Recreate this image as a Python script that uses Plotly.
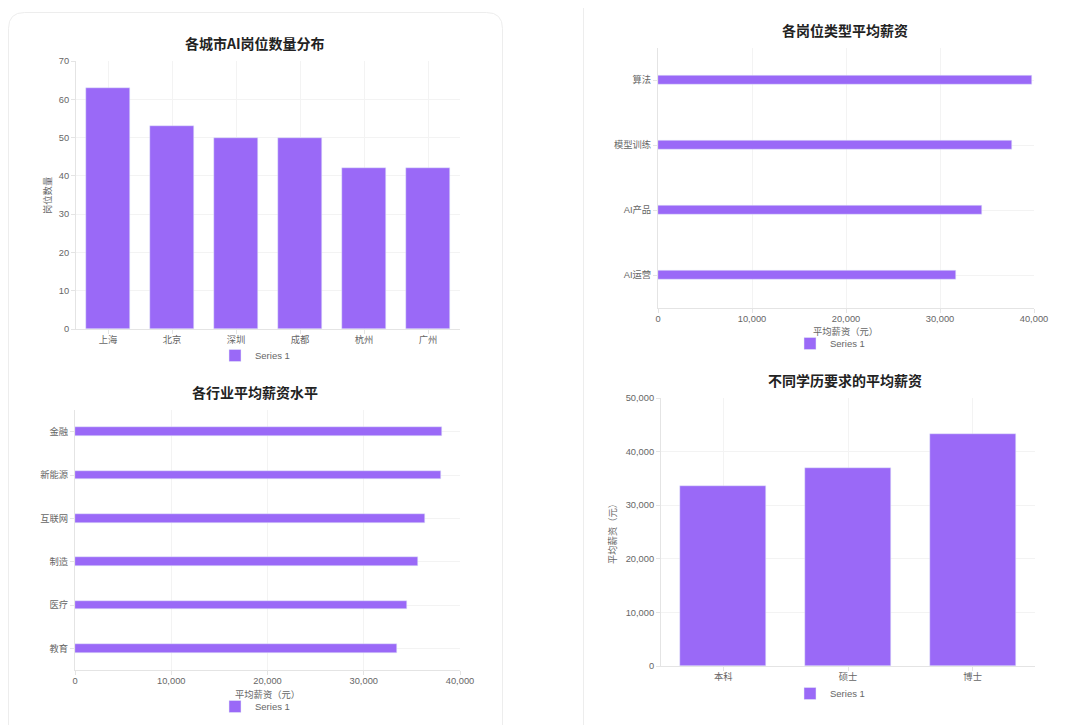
import plotly.graph_objects as go

# ---------------- data ----------------
cities = ["上海", "北京", "深圳", "成都", "杭州", "广州"]
city_jobs = [63, 53, 50, 50, 42, 42]

job_types = ["算法", "模型训练", "AI产品", "AI运营"]
job_salary = [39800, 37700, 34500, 31700]

industries = ["金融", "新能源", "互联网", "制造", "医疗", "教育"]
industry_salary = [38100, 38000, 36400, 35600, 34500, 33500]

degrees = ["本科", "硕士", "博士"]
degree_salary = [33500, 36900, 43300]

W, H = 1080, 725
OFF = 8  # page body offset of the rendered figure
PURPLE = "#9A69F7"
GRID = "#F3F3F3"
AXLINE = "#E4E4E4"
TICK = "#666666"
FONT = "Liberation Sans, Noto Sans CJK SC, sans-serif"
CJK = "Noto Sans CJK SC, sans-serif"


def px(x):
    return (x - OFF) / W


def py(y):
    return 1 - (y - OFF) / H


fig = go.Figure()

fig.add_trace(go.Bar(x=cities, y=city_jobs, name="Series 1", marker_color=PURPLE,
                     width=0.69, xaxis="x", yaxis="y", legend="legend"))
fig.add_trace(go.Bar(y=job_types, x=job_salary, orientation="h", name="Series 1",
                     marker_color=PURPLE, width=0.13, xaxis="x2", yaxis="y2", legend="legend2"))
fig.add_trace(go.Bar(y=industries, x=industry_salary, orientation="h", name="Series 1",
                     marker_color=PURPLE, width=0.2, xaxis="x3", yaxis="y3", legend="legend3"))
fig.add_trace(go.Bar(x=degrees, y=degree_salary, name="Series 1", marker_color=PURPLE,
                     width=0.69, xaxis="x4", yaxis="y4", legend="legend4"))

tick_font = dict(size=9.3, color=TICK, family=FONT)
axis_common = dict(showgrid=True, gridcolor=GRID, gridwidth=1, showline=True, linecolor=AXLINE,
                   linewidth=1, zeroline=False, ticks="outside", ticklen=4, tickcolor=AXLINE,
                   tickfont=tick_font, automargin=False, fixedrange=True)
xtick = dict(ticklen=4, ticklabelstandoff=-2)

layout = dict(
    width=W, height=H,
    margin=dict(l=0, r=0, t=0, b=0),
    paper_bgcolor="white", plot_bgcolor="white",
    font=dict(family=FONT),
    bargap=0,
    # subplot 1
    xaxis=dict(axis_common, domain=[px(76), px(460)], anchor="y", **xtick),
    yaxis=dict(axis_common, domain=[py(329), py(61)], anchor="x", range=[0, 70], dtick=10),
    # subplot 2
    xaxis2=dict(axis_common, domain=[px(658), px(1034)], anchor="y2", range=[0, 40000],
                dtick=10000, tickformat=",d", **xtick),
    yaxis2=dict(axis_common, domain=[py(307.5), py(47.5)], anchor="x2", autorange="reversed"),
    # subplot 3
    xaxis3=dict(axis_common, domain=[px(75), px(460)], anchor="y3", range=[0, 40000],
                dtick=10000, tickformat=",d", **xtick),
    yaxis3=dict(axis_common, domain=[py(670), py(410)], anchor="x3", autorange="reversed"),
    # subplot 4
    xaxis4=dict(axis_common, domain=[px(661), px(1035)], anchor="y4", **xtick),
    yaxis4=dict(axis_common, domain=[py(666), py(398)], anchor="x4", range=[0, 50000],
                dtick=10000, tickformat=",d"),
    showlegend=True,
)

leg_common = dict(orientation="h", xanchor="center", yanchor="middle", bgcolor="rgba(0,0,0,0)",
                  font=dict(size=9.5, color=TICK, family=FONT), itemwidth=30)
layout["legend"] = dict(leg_common, x=px(255), y=py(355.5))
layout["legend2"] = dict(leg_common, x=px(830), y=py(343.5))
layout["legend3"] = dict(leg_common, x=px(255), y=py(706.5))
layout["legend4"] = dict(leg_common, x=px(830), y=py(693.5))

fig.update_layout(**layout)

titles = [
    ("各城市AI岗位数量分布", 255, 43),
    ("各岗位类型平均薪资", 845, 30),
    ("各行业平均薪资水平", 255, 392),
    ("不同学历要求的平均薪资", 845, 380),
]
for text, x, y in titles:
    fig.add_annotation(text=f"<b>{text}</b>", x=px(x), y=py(y), xref="paper", yref="paper",
                       showarrow=False, xanchor="center", yanchor="middle",
                       font=dict(size=14, color="#222222", family=CJK))

axis_titles = [
    ("岗位数量", 47, 195, -90),
    ("平均薪资（元）", 845, 331, 0),
    ("平均薪资（元）", 267, 693.5, 0),
    ("平均薪资（元）", 612, 532, -90),
]
for text, x, y, ang in axis_titles:
    fig.add_annotation(text=text, x=px(x), y=py(y), xref="paper", yref="paper",
                       showarrow=False, xanchor="center", yanchor="middle", textangle=ang,
                       font=dict(size=9.3, color=TICK, family=CJK))

# card outlines
r = 16
fig.add_shape(type="path", xref="paper", yref="paper",
              path=(f"M {px(8.5)},{py(760)} L {px(8.5)},{py(12.5 + r)} "
                    f"Q {px(8.5)},{py(12.5)} {px(8.5 + r)},{py(12.5)} "
                    f"L {px(502.5 - r)},{py(12.5)} Q {px(502.5)},{py(12.5)} {px(502.5)},{py(12.5 + r)} "
                    f"L {px(502.5)},{py(760)}"),
              line=dict(color="#EDEDED", width=1), layer="below")
for xx in (583.5, 1077.5):
    fig.add_shape(type="line", xref="paper", yref="paper", x0=px(xx), x1=px(xx), y0=0, y1=1,
                  line=dict(color="#EDEDED", width=1), layer="below")

fig.write_html("out.html", config={"displayModeBar": False})
